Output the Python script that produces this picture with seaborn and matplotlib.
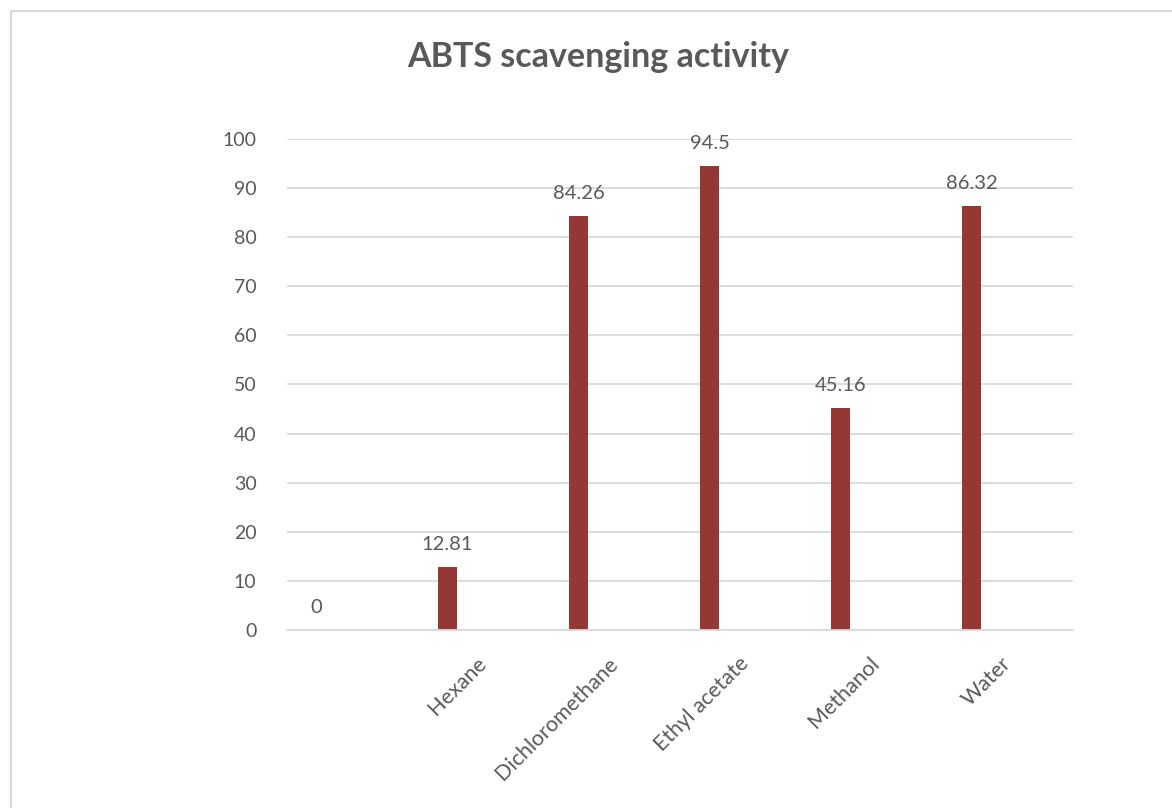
import matplotlib
matplotlib.use("Agg")
import matplotlib.pyplot as plt
import seaborn as sns
import pandas as pd
from matplotlib.patches import Rectangle

# data
solvents = ["", "Hexane", "Dichloromethane", "Ethyl acetate", "Methanol", "Water"]
abts = [0, 12.81, 84.26, 94.5, 45.16, 86.32]
value_labels = ["0", "12.81", "84.26", "94.5", "45.16", "86.32"]

bar_color = "#953735"
text_color = "#595959"
grid_color = "#d9d9d9"

sns.set_theme(style="white")
plt.rcParams["font.family"] = ["Lato", "DejaVu Sans"]

df = pd.DataFrame({"solvent": solvents, "value": abts})

fig = plt.figure(figsize=(11.72, 8.08), dpi=100)
ax = fig.add_axes([0.2449, 0.2203, 0.6706, 0.6077])

sns.barplot(data=df, x="solvent", y="value", color=bar_color,
            width=0.145, saturation=1, ax=ax)

# bars sit left of the category centre (Excel clustered layout)
shift = -0.275
for p in ax.patches:
    p.set_x(p.get_x() + shift)
    p.set_edgecolor("none")

for i, (v, lab) in enumerate(zip(abts, value_labels)):
    ax.text(i + shift, v + 4.6, lab, ha="center", va="center",
            fontsize=14.5, color=text_color)

ax.set_xlim(-0.5, len(solvents) - 0.5)
ax.set_ylim(0, 100)
ax.set_yticks(range(0, 101, 10))
ax.yaxis.grid(True, color=grid_color, linewidth=1.3)
ax.set_axisbelow(True)
for s in ["top", "right", "left"]:
    ax.spines[s].set_visible(False)
ax.spines["bottom"].set_color(grid_color)
ax.spines["bottom"].set_linewidth(1.3)

ax.set_xlabel("")
ax.set_ylabel("")
ax.tick_params(axis="y", length=0, pad=22, labelsize=14, labelcolor=text_color)
ax.tick_params(axis="x", length=0, pad=22, labelsize=15.5, labelcolor=text_color)
for t in ax.get_xticklabels():
    t.set_rotation(45)
    t.set_ha("right")
    t.set_va("center")
    t.set_rotation_mode("anchor")

fig.text(0.51, 0.929, "ABTS scavenging activity", ha="center", va="center",
         fontsize=24.5, fontweight="bold", color=text_color)

# outer chart frame (continues past the right and bottom edges)
fig.patches.append(Rectangle((11 / 1172, -0.05), 1.1, 1.05 - 11 / 808,
                             transform=fig.transFigure, fill=False,
                             edgecolor="#d9d9d9", linewidth=1.5))

fig.savefig("out.png", dpi=100)
